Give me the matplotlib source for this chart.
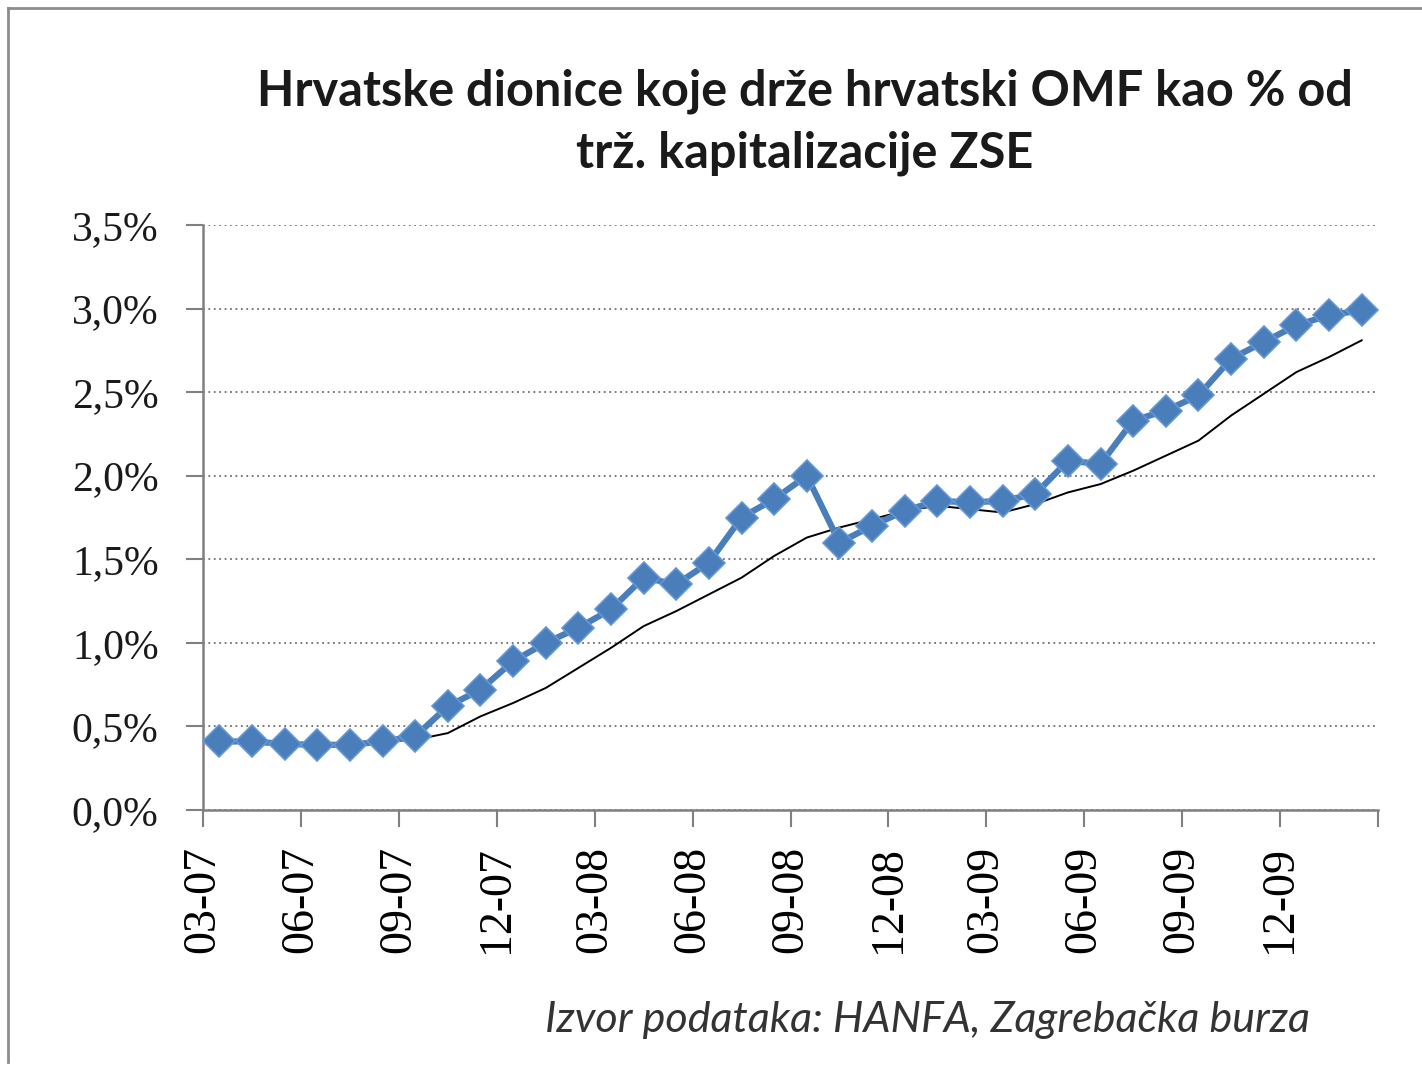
import numpy as np
import matplotlib
matplotlib.use("Agg")
import matplotlib.pyplot as plt
from matplotlib.lines import Line2D

# OMF holdings as % of ZSE market cap, monthly from 03-07
omf_share = [0.41, 0.41, 0.395, 0.39, 0.39, 0.41, 0.44, 0.62, 0.72, 0.89,
             1.00, 1.09, 1.20, 1.39, 1.35, 1.48, 1.75, 1.86, 2.00, 1.60,
             1.70, 1.79, 1.85, 1.84, 1.85, 1.89, 2.09, 2.07, 2.33, 2.39,
             2.48, 2.70, 2.80, 2.90, 2.96, 2.99]

# moving-average trend line (starts at the 6th month)
trend = [0.41, 0.42, 0.46, 0.56, 0.64, 0.73, 0.85, 0.97, 1.10, 1.19,
         1.29, 1.39, 1.52, 1.63, 1.69, 1.74, 1.79, 1.82, 1.80, 1.78,
         1.83, 1.90, 1.95, 2.03, 2.12, 2.21, 2.36, 2.49, 2.62, 2.71, 2.81]

tick_labels = ["03-07", "06-07", "09-07", "12-07", "03-08", "06-08",
               "09-08", "12-08", "03-09", "06-09", "09-09", "12-09"]

y_ticks = [0.0, 0.5, 1.0, 1.5, 2.0, 2.5, 3.0, 3.5]

title = "Hrvatske dionice koje drže hrvatski OMF kao % od\ntrž. kapitalizacije ZSE"
source = "Izvor podataka: HANFA, Zagrebačka burza"

W, H = 1422, 1066
fig = plt.figure(figsize=(W / 100, H / 100), dpi=100)
fig.patch.set_facecolor("white")

# outer chart frame (only left and top visible in the original)
fig.add_artist(Line2D([8 / W, 8 / W], [1 - 1062 / H, 1 - 8 / H],
                      transform=fig.transFigure, color="#8c8c8c", lw=2))
fig.add_artist(Line2D([8 / W, 1.0], [1 - 8 / H, 1 - 8 / H],
                      transform=fig.transFigure, color="#8c8c8c", lw=2))

ax = fig.add_axes([203 / W, 1 - 810 / H, (1378 - 203) / W, (810 - 225) / H])

x = np.arange(len(omf_share))
x_trend = np.arange(len(omf_share) - len(trend), len(omf_share))

ax.plot(x_trend, trend, color="black", lw=1.4, zorder=3)
ax.plot(x, omf_share, color="#4a7ebb", lw=4.5, marker="D", markersize=16,
        markerfacecolor="#4a7ebb", markeredgecolor="#6396d4",
        markeredgewidth=1.2, zorder=4, clip_on=False)

ax.set_xlim(-0.5, len(omf_share) - 0.5)
ax.set_ylim(0, 3.5)

ax.set_yticks(y_ticks)
ax.set_yticklabels([("%.1f%%" % v).replace(".", ",") for v in y_ticks],
                   fontsize=30, family="Liberation Serif", color="#1a1a1a")
ax.yaxis.grid(True, linestyle=(0, (1, 2)), color="#707070", lw=1.3)
ax.set_axisbelow(True)

# ticks sit on category boundaries every 3 months
boundaries = np.arange(-0.5, len(omf_share), 3)
ax.set_xticks(boundaries)
ax.set_xticklabels(tick_labels + [""], rotation=90, fontsize=33,
                   family="Liberation Serif", color="black")

ax.tick_params(axis="both", direction="out", length=12, width=1.5,
               color="#808080")
ax.tick_params(axis="y", pad=20)
ax.tick_params(axis="x", pad=14)

for side in ["top", "right"]:
    ax.spines[side].set_visible(False)
for side in ["left", "bottom"]:
    ax.spines[side].set_color("#808080")
    ax.spines[side].set_linewidth(1.8)

fig.text(805 / W, 1 - 122 / H, title, ha="center", va="center",
         fontsize=35, fontweight="bold", family="Lato", color="#1a1a1a",
         linespacing=1.45)
fig.text(1310 / W, 1 - 1020 / H, source, ha="right", va="center",
         fontsize=31, style="italic", family="Lato", color="#333333")

fig.savefig("out.png", dpi=100)
plt.close(fig)
